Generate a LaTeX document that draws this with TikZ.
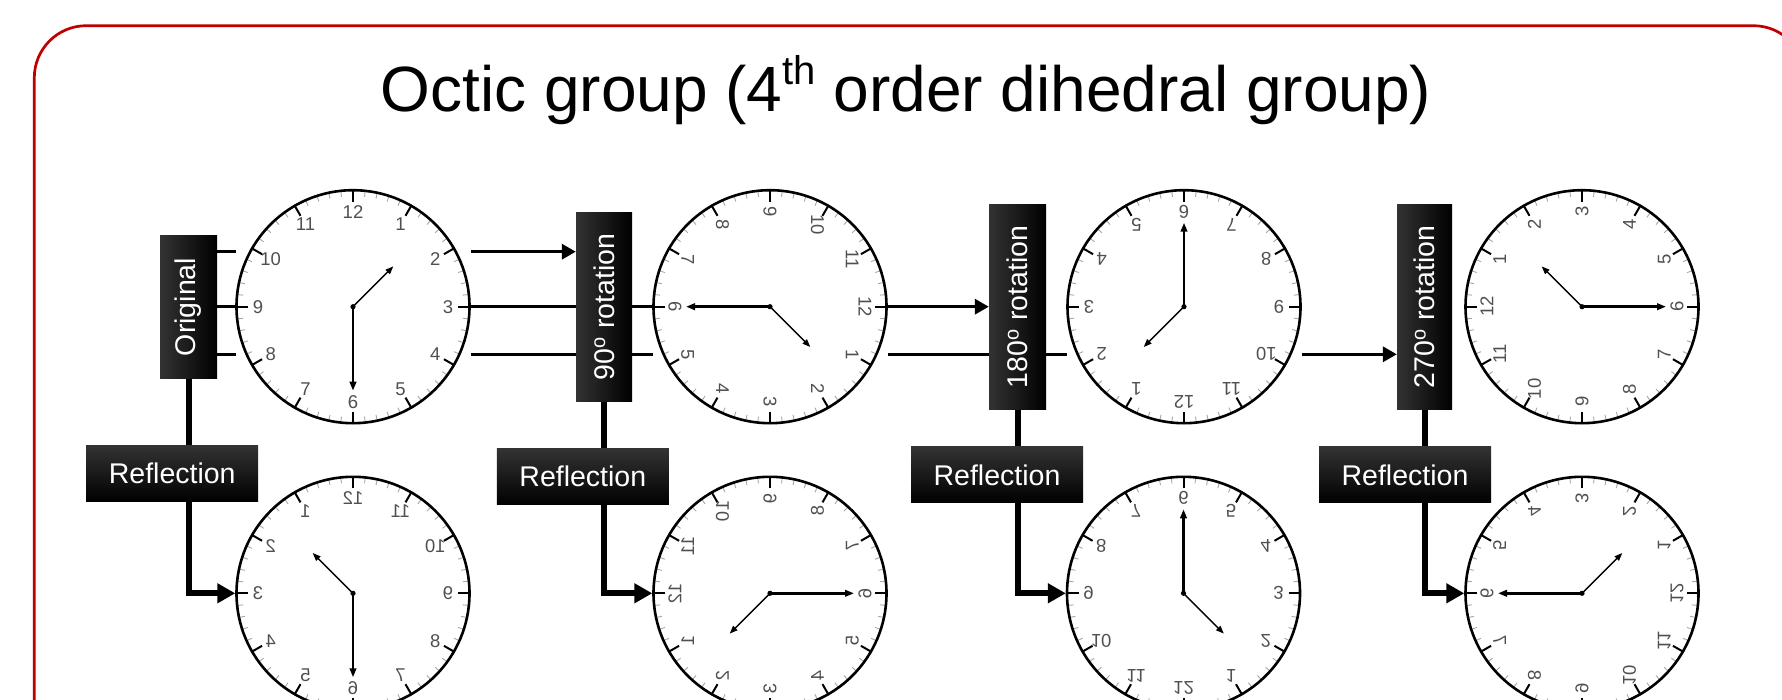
\documentclass[tikz,border=0pt]{standalone}
\usepackage{fontspec}
\usepackage{graphicx}
\setmainfont{Liberation Sans}
\usetikzlibrary{arrows.meta}
\definecolor{framered}{HTML}{C00000}
\definecolor{numgray}{HTML}{505050}
\definecolor{tickgray}{HTML}{A8A8A8}
\pgfdeclarelayer{bg}
\pgfsetlayers{bg,main}
\newcommand\boxfont{\fontsize{28.5}{30}\selectfont}
\tikzset{
  frame/.style={draw=framered, line width=2.7pt, rounded corners=52pt},
  titletext/.style={font=\fontsize{64}{70}\selectfont, anchor=base, inner sep=0pt},
  vbox/.style={inner sep=0pt, text=white, left color=black!80, right color=black, font=\boxfont},
  hbox/.style={inner sep=0pt, text=white, top color=black!80, bottom color=black, font=\boxfont},
  clockbg/.style={fill=white, draw=none, minimum size=235pt, inner sep=0pt},
  clockrim/.style={draw=black, line width=2.6pt},
  minutetick/.style={draw=tickgray, line width=0.9pt},
  hourtick/.style={draw=black, line width=2pt},
  clocknum/.style={text=numgray, font=\fontsize{18.5}{20}\selectfont, inner sep=0pt},
  minutehand/.style={line width=2.4pt, -{Triangle[length=9pt,width=6.5pt]}},
  hourhand/.style={line width=1.4pt, -{Triangle[length=8pt,width=6pt]}},
  toparrow/.style={line width=3.3pt, -{Triangle[length=14pt,width=15pt]}},
  reflarrow/.style={line width=6pt, line join=miter, -{Triangle[length=18pt,width=19pt]}},
}
% #1 name, #2 centre, #3 transformation
\newcommand\drawclock[3]{%
  \node[clockbg] (#1) at (#2) {};
  \begin{scope}[shift={(#2)}, #3, transform shape]
    \foreach \i in {0,...,59} {\draw[minutetick] (\i*6:110.5) -- (\i*6:115.5);}
    \foreach \h in {1,...,12} {
      \draw[hourtick] (90-30*\h:105) -- (90-30*\h:117.5);
      \node[clocknum] (#1n\h) at (90-30*\h:95) {\h};
    }
    \draw[clockrim] (0,0) circle (116.5);
    \draw[minutehand] (0,0) -- (-90:84);
    \draw[hourhand] (0,0) -- (45:57);
    \fill (0,0) circle (2.6);
  \end{scope}}

\begin{document}
\begin{tikzpicture}[x=1pt,y=1pt]
\useasboundingbox (0,0) rectangle (1782,-700);
\clip (0,0) rectangle (1782,-700);
\draw[frame] (34.3,-25.7) rectangle (1805.3,-820);

\node[titletext] (title) at (906,-111.7) {Octic group (4\raisebox{27pt}{\fontsize{40}{40}\selectfont th} order dihedral group)};

% clocks
\drawclock{c1}{353,-306.7}{rotate=0}
\drawclock{c2}{770,-306.7}{rotate=-90}
\drawclock{c3}{1184,-306.7}{rotate=-180}
\drawclock{c4}{1582,-306.7}{rotate=-270}
\drawclock{b1}{353,-593.3}{xscale=-1}
\drawclock{b2}{770,-593.3}{xscale=-1, rotate=-90}
\drawclock{b3}{1183.5,-593.3}{xscale=-1, rotate=-180}
\drawclock{b4}{1582,-593.3}{xscale=-1, rotate=-270}

% operation boxes
\node[vbox, minimum width=57pt, minimum height=142pt] (orig) at (188.5,-307) {\rotatebox{90}{Original}};
\node[vbox, minimum width=56pt, minimum height=188pt] (rot90) at (604,-307) {\rotatebox{90}{90\textsuperscript{o} rotation}};
\node[vbox, minimum width=57pt, minimum height=204pt] (rot180) at (1017.5,-307) {\rotatebox{90}{180\textsuperscript{o} rotation}};
\node[vbox, minimum width=55pt, minimum height=204pt] (rot270) at (1424.5,-307) {\rotatebox{90}{270\textsuperscript{o} rotation}};
\node[hbox, minimum width=172pt, minimum height=56pt] (refl1) at (172.2,-473.4) {Reflection};
\node[hbox, minimum width=172pt, minimum height=56pt] (refl2) at (582.8,-476.8) {Reflection};
\node[hbox, minimum width=172pt, minimum height=56pt] (refl3) at (997,-474.9) {Reflection};
\node[hbox, minimum width=172pt, minimum height=56pt] (refl4) at (1405,-474.9) {Reflection};

\coordinate (ya) at (0,-251.7);
\coordinate (yb) at (0,-306.7);
\coordinate (yc) at (0,-354.3);

\begin{pgfonlayer}{bg}
  \draw[toparrow] (orig.east |- ya) -- (rot90.west |- ya);
  \draw[toparrow] (orig.east |- yb) -- (rot180.west |- yb);
  \draw[toparrow] (orig.east |- yc) -- (rot270.west |- yc);
  \draw[reflarrow] (orig.south) -- (orig.south |- b1.west) -- (b1.west);
  \draw[reflarrow] (rot90.south) -- (rot90.south |- b2.west) -- (b2.west);
  \draw[reflarrow] (rot180.south) -- (rot180.south |- b3.west) -- (b3.west);
  \draw[reflarrow] (rot270.south) -- (rot270.south |- b4.west) -- (b4.west);
\end{pgfonlayer}
\end{tikzpicture}
\end{document}
